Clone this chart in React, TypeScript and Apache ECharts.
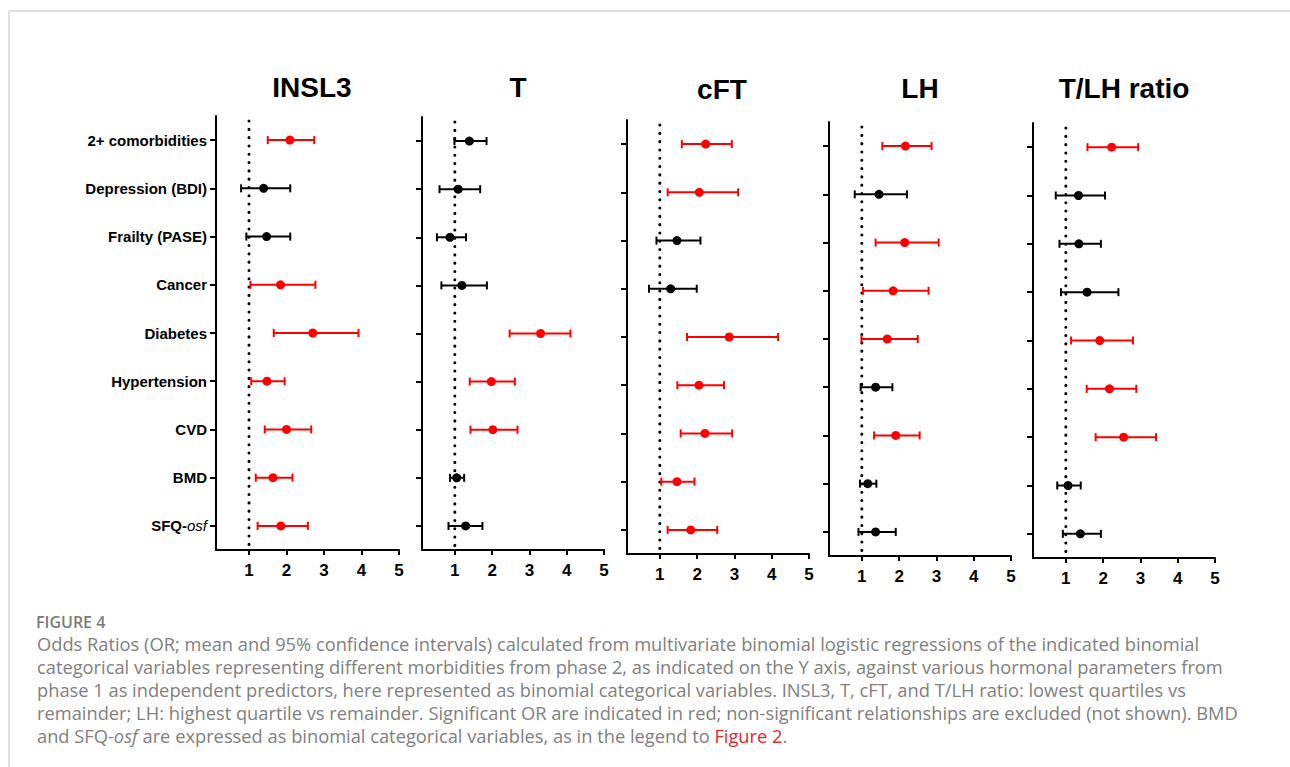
import React, { useEffect, useRef } from "react";
import * as echarts from "echarts";

const categories = [
  "2+ comorbidities",
  "Depression (BDI)",
  "Frailty (PASE)",
  "Cancer",
  "Diabetes",
  "Hypertension",
  "CVD",
  "BMD",
  "SFQ-osf",
];
const xTicks = [1, 2, 3, 4, 5];
const referenceOR = 1;
const panelTitles = ["INSL3", "T", "cFT", "LH", "T/LH ratio"];

const insl3OR = [2.09, 1.39, 1.47, 1.84, 2.7, 1.48, 2.0, 1.64, 1.85];
const insl3Low = [1.5, 0.79, 0.93, 1.04, 1.66, 1.06, 1.42, 1.18, 1.23];
const insl3High = [2.74, 2.1, 2.1, 2.77, 3.92, 1.95, 2.66, 2.16, 2.57];
const insl3Sig = [1, 0, 0, 1, 1, 1, 1, 1, 1];

const tOR = [1.39, 1.09, 0.87, 1.19, 3.3, 1.98, 2.02, 1.05, 1.29];
const tLow = [0.99, 0.59, 0.52, 0.64, 2.47, 1.4, 1.42, 0.87, 0.83];
const tHigh = [1.85, 1.68, 1.3, 1.86, 4.1, 2.61, 2.68, 1.25, 1.74];
const tSig = [0, 0, 0, 0, 1, 1, 1, 0, 0];

const cftOR = [2.23, 2.06, 1.46, 1.29, 2.86, 2.05, 2.21, 1.46, 1.83];
const cftLow = [1.59, 1.21, 0.91, 0.71, 1.73, 1.47, 1.56, 1.04, 1.21];
const cftHigh = [2.93, 3.1, 2.09, 1.99, 4.17, 2.72, 2.94, 1.93, 2.54];
const cftSig = [1, 1, 0, 0, 1, 1, 1, 1, 1];

const lhOR = [2.17, 1.46, 2.15, 1.84, 1.68, 1.37, 1.91, 1.16, 1.37];
const lhLow = [1.55, 0.81, 1.37, 1.03, 0.99, 0.97, 1.33, 0.95, 0.91];
const lhHigh = [2.87, 2.21, 3.06, 2.79, 2.5, 1.82, 2.55, 1.39, 1.91];
const lhSig = [1, 0, 1, 1, 1, 0, 1, 0, 0];

const tlhOR = [2.23, 1.34, 1.35, 1.57, 1.91, 2.17, 2.55, 1.06, 1.39];
const tlhLow = [1.58, 0.73, 0.83, 0.87, 1.14, 1.56, 1.8, 0.77, 0.92];
const tlhHigh = [2.94, 2.05, 1.94, 2.41, 2.8, 2.89, 3.42, 1.4, 1.94];
const tlhSig = [1, 0, 0, 0, 1, 1, 1, 0, 0];

const captionHeading = "FIGURE 4";
const captionLines = [
  "Odds Ratios (OR; mean and 95% confidence intervals) calculated from multivariate binomial logistic regressions of the indicated binomial",
  "categorical variables representing different morbidities from phase 2, as indicated on the Y axis, against various hormonal parameters from",
  "phase 1 as independent predictors, here represented as binomial categorical variables. INSL3, T, cFT, and T/LH ratio: lowest quartiles vs",
  "remainder; LH: highest quartile vs remainder. Significant OR are indicated in red; non-significant relationships are excluded (not shown). BMD",
  "and SFQ-{i|osf} are expressed as binomial categorical variables, as in the legend to {r|Figure 2}{g|.}",
];

const panelData = [
  [insl3OR, insl3Low, insl3High, insl3Sig],
  [tOR, tLow, tHigh, tSig],
  [cftOR, cftLow, cftHigh, cftSig],
  [lhOR, lhLow, lhHigh, lhSig],
  [tlhOR, tlhLow, tlhHigh, tlhSig],
];

// layout (pixels)
const gridBoxes = [
  { left: 216, top: 116, width: 183, height: 434 },
  { left: 422, top: 117, width: 182, height: 433 },
  { left: 627, top: 120, width: 182, height: 434 },
  { left: 829, top: 122, width: 182, height: 434 },
  { left: 1033, top: 123, width: 182, height: 435 },
];
const titlePos = [
  [312, 87],
  [518, 87],
  [722, 89],
  [920, 88],
  [1124, 88],
];

const AX_FONT = "'Liberation Sans', Arial, Helvetica, sans-serif";
const CAP_FONT = "'Open Sans', 'Noto Sans', sans-serif";
const RED = "#ff0000";
const BLACK = "#000000";
const CAP_GREY = "#808080";
const CAP_SIZE = 18.3;

function renderItem(params: any, api: any) {
  const low = api.value(0);
  const high = api.value(1);
  const or = api.value(2);
  const cat = api.value(3);
  const sig = api.value(4);
  const pL = api.coord([low, cat]);
  const pH = api.coord([high, cat]);
  const pM = api.coord([or, cat]);
  const color = sig ? RED : BLACK;
  const cap = 4;
  const ls = { stroke: color, lineWidth: 2 };
  const children: any[] = [];
  if (params.dataIndex === 0) {
    const cs = params.coordSys;
    const xr = api.coord([referenceOR, cat])[0];
    children.push({
      type: "line",
      shape: { x1: xr, y1: cs.y + 5, x2: xr, y2: cs.y + cs.height },
      style: { stroke: BLACK, lineWidth: 3, lineDash: [0.1, 8.2], lineCap: "round" },
      z2: 0,
    });
  }
  children.push(
    { type: "line", shape: { x1: pL[0], y1: pL[1], x2: pH[0], y2: pH[1] }, style: ls, z2: 5 },
    { type: "line", shape: { x1: pL[0], y1: pL[1] - cap, x2: pL[0], y2: pL[1] + cap }, style: ls, z2: 5 },
    { type: "line", shape: { x1: pH[0], y1: pH[1] - cap, x2: pH[0], y2: pH[1] + cap }, style: ls, z2: 5 },
    { type: "circle", shape: { cx: pM[0], cy: pM[1], r: 4.5 }, style: { fill: color }, z2: 6 }
  );
  return { type: "group", children };
}

export default function App() {
  const ref = useRef<HTMLDivElement>(null);
  useEffect(() => {
    if (!ref.current) return;
    const chart = echarts.init(ref.current, null, { renderer: "svg" });

    const grid = gridBoxes.map((g) => ({ ...g, containLabel: false }));

    const xAxis = gridBoxes.map((_, i) => ({
      type: "value",
      gridIndex: i,
      min: 0.12,
      max: 5,
      splitLine: { show: false },
      axisLine: { show: true, lineStyle: { color: BLACK, width: 2 } },
      axisTick: { show: true, length: 5, lineStyle: { color: BLACK, width: 2 }, customValues: xTicks },
      axisLabel: {
        show: true,
        customValues: xTicks,
        color: BLACK,
        fontFamily: AX_FONT,
        fontWeight: "bold",
        fontSize: 17,
        margin: 12,
      },
    }));

    const yAxis = gridBoxes.map((_, i) => ({
      type: "category",
      gridIndex: i,
      data: categories,
      inverse: true,
      boundaryGap: true,
      axisLine: { show: true, lineStyle: { color: BLACK, width: 2 } },
      axisTick: { show: true, alignWithLabel: true, length: 6, lineStyle: { color: BLACK, width: 2 } },
      splitLine: { show: false },
      axisLabel: {
        show: i === 0,
        margin: 9,
        color: BLACK,
        fontFamily: AX_FONT,
        fontWeight: "bold",
        fontSize: 15,
        formatter: (v: string) => (v === "SFQ-osf" ? "{b|SFQ-}{i|osf}" : "{b|" + v + "}"),
        rich: {
          b: { fontFamily: AX_FONT, fontWeight: "bold", fontSize: 15, color: BLACK },
          i: { fontFamily: AX_FONT, fontWeight: "normal", fontStyle: "italic", fontSize: 15, color: BLACK },
        },
      },
    }));

    const series = panelData.map(([ors, lows, highs, sigs], i) => ({
      type: "custom",
      xAxisIndex: i,
      yAxisIndex: i,
      renderItem,
      encode: { x: [0, 1, 2], y: 3 },
      data: ors.map((v: number, k: number) => [lows[k], highs[k], v, k, sigs[k]]),
      clip: false,
    }));

    const graphic: any[] = [
      { type: "line", shape: { x1: 9, y1: 11, x2: 1290, y2: 11 }, style: { stroke: "#d4d4d4", lineWidth: 1.5 } },
      { type: "line", shape: { x1: 9, y1: 11, x2: 9, y2: 767 }, style: { stroke: "#d4d4d4", lineWidth: 1.5 } },
    ];
    panelTitles.forEach((t, i) => {
      graphic.push({
        type: "text",
        x: titlePos[i][0],
        y: titlePos[i][1],
        style: {
          text: t,
          fontFamily: AX_FONT,
          fontWeight: "bold",
          fontSize: 28,
          fill: BLACK,
          align: "center",
          verticalAlign: "middle",
        },
      });
    });
    graphic.push({
      type: "text",
      x: 36,
      y: 622,
      style: {
        text: captionHeading,
        fontFamily: CAP_FONT,
        fontWeight: 600,
        fontSize: 16,
        fill: "#7a7a7a",
        align: "left",
        verticalAlign: "middle",
      },
    });
    const lineY = [643, 666, 689, 712, 735];
    captionLines.forEach((t, i) => {
      graphic.push({
        type: "text",
        x: 37,
        y: lineY[i],
        style: {
          text: t,
          fontFamily: CAP_FONT,
          fontSize: CAP_SIZE,
          fill: CAP_GREY,
          align: "left",
          verticalAlign: "middle",
          rich: {
            i: { fontFamily: CAP_FONT, fontSize: CAP_SIZE, fontStyle: "italic", fill: CAP_GREY },
            r: { fontFamily: CAP_FONT, fontSize: CAP_SIZE, fill: "#e0262f" },
            g: { fontFamily: CAP_FONT, fontSize: CAP_SIZE, fill: CAP_GREY },
          },
        },
      });
    });

    chart.setOption({
      animation: false,
      backgroundColor: "#ffffff",
      grid,
      xAxis,
      yAxis,
      series,
      graphic,
    });
    return () => chart.dispose();
  }, []);

  return (
    <div
      ref={ref}
      style={{ position: "fixed", left: 0, top: 0, width: 1290, height: 767, background: "#fff" }}
    />
  );
}
